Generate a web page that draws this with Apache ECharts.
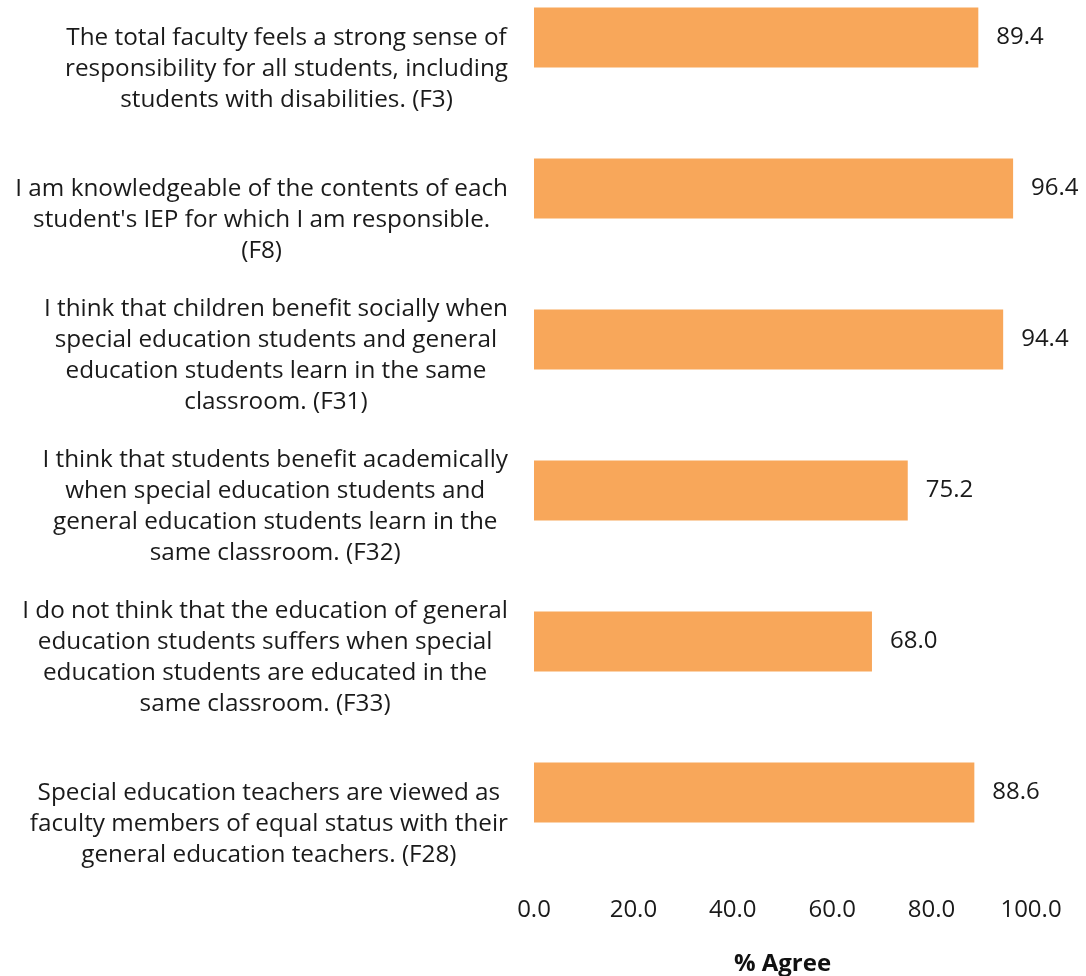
<!DOCTYPE html>
<html>
<head>
<meta charset="utf-8">
<script src="https://cdn.jsdelivr.net/npm/echarts@6/dist/echarts.min.js"></script>
<style>
html,body{margin:0;padding:0;background:#fff;overflow:hidden;}
#wrap{width:1086px;height:976px;overflow:hidden;position:relative;}
#chart{width:1086px;height:1014px;position:absolute;top:-38px;left:0;}
</style>
</head>
<body>
<div id="wrap"><div id="chart"></div></div>
<script>
const categories = [
  "The total faculty feels a strong sense of\nresponsibility for all students, including\nstudents with disabilities. (F3)",
  "I am knowledgeable of the contents of each\nstudent's IEP for which I am responsible.\n(F8)",
  "I think that children benefit socially when\nspecial education students and general\neducation students learn in the same\nclassroom. (F31)",
  "I think that students benefit academically\nwhen special education students and\ngeneral education students learn in the\nsame classroom. (F32)",
  "I do not think that the education of general\neducation students suffers when special\neducation students are educated in the\nsame classroom. (F33)",
  "Special education teachers are viewed as\nfaculty members of equal status with their\ngeneral education teachers. (F28)"
];
const agreeValues = [89.4, 96.4, 94.4, 75.2, 68.0, 88.6];
const xTicks = [0, 20, 40, 60, 80, 100];
const axisTitle = "% Agree";

const FONT = "Open Sans";
const FS = 24.3;
const chart = echarts.init(document.getElementById('chart'));
chart.setOption({
  animation: false,
  backgroundColor: '#fff',
  grid: { left: 534, right: 55, top: 0, bottom: 108, containLabel: false, outerBoundsMode: 'none' },
  xAxis: {
    type: 'value',
    min: xTicks[0], max: xTicks[xTicks.length - 1], interval: 20,
    axisLine: { show: false }, axisTick: { show: false }, splitLine: { show: false },
    axisLabel: {
      margin: 30, fontFamily: FONT, fontSize: 24, color: '#1a1a1a',
      formatter: v => v.toFixed(1)
    },
    name: axisTitle, nameLocation: 'middle', nameGap: 84,
    nameTextStyle: { fontFamily: FONT, fontSize: 24, fontWeight: 'bold', color: '#111' }
  },
  yAxis: {
    type: 'category', data: categories, inverse: true,
    axisLine: { show: false }, axisTick: { show: false }, splitLine: { show: false },
    axisLabel: {
      interval: 0,
      margin: 26, align: 'right', verticalAlign: 'bottom', padding: [0, 0, -78, 0],
      fontFamily: FONT, fontSize: FS, color: '#1a1a1a',
      lineHeight: 31,
      formatter: v => v.split('\n').map(l => '{c|' + l + '}').join('\n'),
      rich: { c: { align: 'center', fontFamily: FONT, fontSize: FS, color: '#1a1a1a', lineHeight: 31 } }
    }
  },
  series: [{
    type: 'bar', data: agreeValues, barWidth: 60,
    itemStyle: { color: '#F8A75A' },
    label: {
      show: true, position: 'right', distance: 18,
      fontFamily: FONT, fontSize: 24, color: '#1a1a1a',
      formatter: p => p.value.toFixed(1)
    }
  }]
});
</script>
</body>
</html>
